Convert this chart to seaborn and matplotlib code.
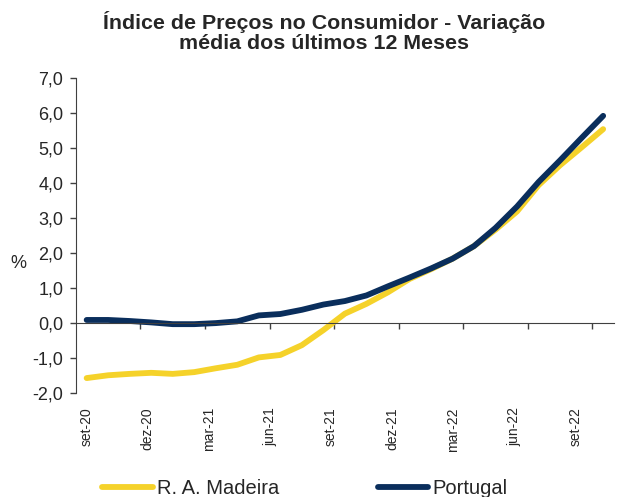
import numpy as np
import pandas as pd
import matplotlib
matplotlib.use("Agg")
import matplotlib.pyplot as plt
from matplotlib.ticker import FuncFormatter, FixedLocator
import seaborn as sns

# meses (set-20 .. set-22)
meses = ["set-20", "out-20", "nov-20", "dez-20", "jan-21", "fev-21", "mar-21",
         "abr-21", "mai-21", "jun-21", "jul-21", "ago-21", "set-21", "out-21",
         "nov-21", "dez-21", "jan-22", "fev-22", "mar-22", "abr-22", "mai-22",
         "jun-22", "jul-22", "ago-22", "set-22"]
madeira = [-1.57, -1.49, -1.45, -1.42, -1.45, -1.40, -1.29, -1.19, -0.98, -0.91,
           -0.63, -0.20, 0.27, 0.55, 0.88, 1.26, 1.54, 1.84, 2.20, 2.67,
           3.19, 3.94, 4.51, 5.02, 5.54]
portugal = [0.09, 0.09, 0.06, 0.02, -0.03, -0.03, 0.00, 0.05, 0.22, 0.26,
            0.38, 0.53, 0.63, 0.79, 1.05, 1.30, 1.56, 1.84, 2.20, 2.72,
            3.33, 4.03, 4.65, 5.29, 5.92]
series = ["R. A. Madeira", "Portugal"]
cores = ["#F5D22A", "#0A2E5C"]
rotulos = ["set-20", "dez-20", "mar-21", "jun-21", "set-21", "dez-21",
           "mar-22", "jun-22", "set-22"]

df = pd.DataFrame({
    "idx": list(range(len(meses))) * 2,
    "valor": madeira + portugal,
    "serie": [series[0]] * len(meses) + [series[1]] * len(meses),
})

sns.set_style("white")
plt.rcParams["font.family"] = ["Liberation Sans", "DejaVu Sans"]

fig = plt.figure(figsize=(6.17, 4.97), dpi=100)
ax = fig.add_axes([0.123, 0.209, 0.872, 0.634])

sns.lineplot(data=df, x="idx", y="valor", hue="serie", hue_order=series,
             palette=cores, linewidth=4.2, ax=ax, legend=False)
for ln in ax.get_lines():
    ln.set_solid_capstyle("round")

ax.set_xlim(-0.5, len(meses) - 0.5)
ax.set_ylim(-2, 7)
ax.set_yticks(np.arange(-2, 8, 1))
ax.yaxis.set_major_formatter(FuncFormatter(lambda v, p: f"{v:.1f}".replace(".", ",")))
ax.tick_params(axis="y", direction="out", length=4, width=1, color="#404040",
               labelsize=13, pad=5, left=True)
ax.set_xlabel("")
ax.set_ylabel("")

for s in ["top", "right"]:
    ax.spines[s].set_visible(False)
ax.spines["left"].set_color("#404040")
ax.spines["bottom"].set_color("#404040")
ax.spines["bottom"].set_position(("data", 0))

# tick marks between categories, on the zero line
ax.xaxis.set_major_locator(FixedLocator(np.arange(2.5, len(meses) - 1, 3)))
ax.tick_params(axis="x", direction="out", length=4, width=1, color="#404040",
               labelbottom=False, bottom=True)

# labels at the bottom of the plot area
sec = ax.secondary_xaxis(0)
sec.set_xticks(np.arange(len(rotulos)) * 2.84, rotulos)
sec.tick_params(length=0, pad=10, labelsize=10, labelrotation=90)
sec.spines["bottom"].set_visible(False)

fig.text(0.525, 0.936, "Índice de Preços no Consumidor - Variação\nmédia dos últimos 12 Meses",
         ha="center", va="center", fontsize=15.4, fontweight="bold", linespacing=1.05)
fig.text(0.029, 0.47, "%", ha="center", va="center", fontsize=13)

fig.legend(ax.get_lines()[:2], series, loc="center", bbox_to_anchor=(0.494, 0.018),
           ncol=2, frameon=False, fontsize=14.5, handlelength=2.5, columnspacing=4.9,
           handletextpad=0.2)

fig.savefig("out.png", dpi=100)
